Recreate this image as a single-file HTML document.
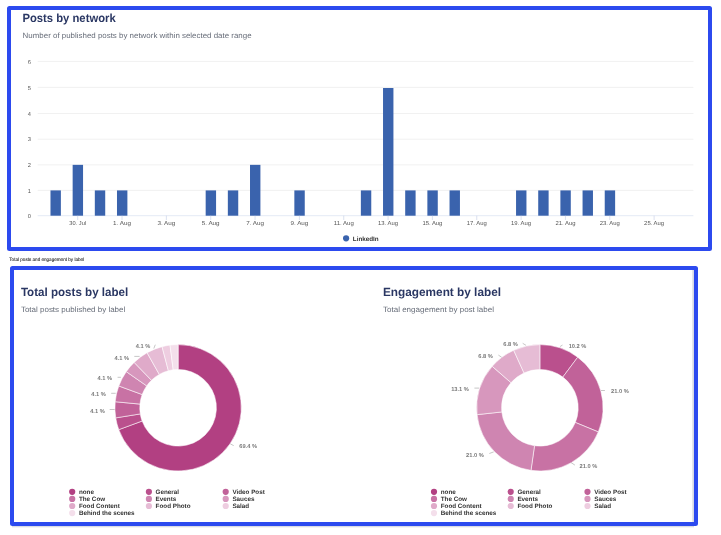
<!DOCTYPE html>
<html lang="en">
<head>
<meta charset="utf-8">
<title>Posts by network</title>
<style>
html,body{margin:0;padding:0;background:#fff;}
body{width:721px;height:535px;overflow:hidden;position:relative;font-family:"Liberation Sans", Arial, Helvetica, sans-serif;}
svg{position:absolute;left:0;top:0;display:block;}
text{font-family:"Liberation Sans", Arial, Helvetica, sans-serif;text-rendering:geometricPrecision;}
.frame{position:absolute;box-sizing:border-box;border:4px solid #2c4aef;border-radius:2.5px;background:#fff;}
.t{font-weight:700;fill:#2a3763;}
.s{fill:#666c78;}
.ax{fill:#555;font-size:5.7px;}
.dl{fill:#7b7b7b;font-size:5.7px;font-weight:700;}
.lg{fill:#333;font-size:6.3px;font-weight:700;}
</style>
</head>
<body>
<div class="frame" style="left:7px;top:6px;width:705px;height:245px;"></div>
<div class="frame" style="left:10px;top:266px;width:688px;height:260px;"></div>
<svg width="721" height="535" viewBox="0 0 721 535">
<g>
<text class="t" x="22.4" y="22" font-size="11.9" textLength="93.3" lengthAdjust="spacingAndGlyphs">Posts by network</text>
<text class="s" x="22.6" y="38" font-size="7.7" textLength="229" lengthAdjust="spacingAndGlyphs">Number of published posts by network within selected date range</text>
<line x1="37.7" x2="693.4" y1="215.70" y2="215.70" stroke="#ccd6eb" stroke-width="0.55"/>
<text class="ax" x="30.8" y="217.90" text-anchor="end">0</text>
<line x1="37.7" x2="693.4" y1="190.40" y2="190.40" stroke="#e6e6e6" stroke-width="0.55"/>
<text class="ax" x="30.8" y="192.60" text-anchor="end">1</text>
<line x1="37.7" x2="693.4" y1="164.85" y2="164.85" stroke="#e6e6e6" stroke-width="0.55"/>
<text class="ax" x="30.8" y="167.05" text-anchor="end">2</text>
<line x1="37.7" x2="693.4" y1="139.20" y2="139.20" stroke="#e6e6e6" stroke-width="0.55"/>
<text class="ax" x="30.8" y="141.40" text-anchor="end">3</text>
<line x1="37.7" x2="693.4" y1="113.50" y2="113.50" stroke="#e6e6e6" stroke-width="0.55"/>
<text class="ax" x="30.8" y="115.70" text-anchor="end">4</text>
<line x1="37.7" x2="693.4" y1="87.40" y2="87.40" stroke="#e6e6e6" stroke-width="0.55"/>
<text class="ax" x="30.8" y="89.60" text-anchor="end">5</text>
<line x1="37.7" x2="693.4" y1="61.45" y2="61.45" stroke="#e6e6e6" stroke-width="0.55"/>
<text class="ax" x="30.8" y="63.65" text-anchor="end">6</text>
<rect x="50.48" y="190.40" width="10.4" height="25.30" fill="#3a63ad"/>
<rect x="72.65" y="164.85" width="10.4" height="50.85" fill="#3a63ad"/>
<rect x="94.82" y="190.40" width="10.4" height="25.30" fill="#3a63ad"/>
<rect x="116.99" y="190.40" width="10.4" height="25.30" fill="#3a63ad"/>
<rect x="205.67" y="190.40" width="10.4" height="25.30" fill="#3a63ad"/>
<rect x="227.84" y="190.40" width="10.4" height="25.30" fill="#3a63ad"/>
<rect x="250.01" y="164.85" width="10.4" height="50.85" fill="#3a63ad"/>
<rect x="294.35" y="190.40" width="10.4" height="25.30" fill="#3a63ad"/>
<rect x="360.86" y="190.40" width="10.4" height="25.30" fill="#3a63ad"/>
<rect x="383.03" y="88.00" width="10.4" height="127.70" fill="#3a63ad"/>
<rect x="405.20" y="190.40" width="10.4" height="25.30" fill="#3a63ad"/>
<rect x="427.37" y="190.40" width="10.4" height="25.30" fill="#3a63ad"/>
<rect x="449.54" y="190.40" width="10.4" height="25.30" fill="#3a63ad"/>
<rect x="516.05" y="190.40" width="10.4" height="25.30" fill="#3a63ad"/>
<rect x="538.22" y="190.40" width="10.4" height="25.30" fill="#3a63ad"/>
<rect x="560.39" y="190.40" width="10.4" height="25.30" fill="#3a63ad"/>
<rect x="582.56" y="190.40" width="10.4" height="25.30" fill="#3a63ad"/>
<rect x="604.73" y="190.40" width="10.4" height="25.30" fill="#3a63ad"/>
<line x1="77.70" x2="77.70" y1="215.70" y2="220.00" stroke="#c3cde6" stroke-width="0.6"/>
<text class="ax" x="69.30" y="225" textLength="16.8" lengthAdjust="spacingAndGlyphs">30. Jul</text>
<line x1="122.04" x2="122.04" y1="215.70" y2="220.00" stroke="#c3cde6" stroke-width="0.6"/>
<text class="ax" x="113.14" y="225" textLength="17.8" lengthAdjust="spacingAndGlyphs">1. Aug</text>
<line x1="166.38" x2="166.38" y1="215.70" y2="220.00" stroke="#c3cde6" stroke-width="0.6"/>
<text class="ax" x="157.48" y="225" textLength="17.8" lengthAdjust="spacingAndGlyphs">3. Aug</text>
<line x1="210.72" x2="210.72" y1="215.70" y2="220.00" stroke="#c3cde6" stroke-width="0.6"/>
<text class="ax" x="201.82" y="225" textLength="17.8" lengthAdjust="spacingAndGlyphs">5. Aug</text>
<line x1="255.06" x2="255.06" y1="215.70" y2="220.00" stroke="#c3cde6" stroke-width="0.6"/>
<text class="ax" x="246.16" y="225" textLength="17.8" lengthAdjust="spacingAndGlyphs">7. Aug</text>
<line x1="299.40" x2="299.40" y1="215.70" y2="220.00" stroke="#c3cde6" stroke-width="0.6"/>
<text class="ax" x="290.50" y="225" textLength="17.8" lengthAdjust="spacingAndGlyphs">9. Aug</text>
<line x1="343.74" x2="343.74" y1="215.70" y2="220.00" stroke="#c3cde6" stroke-width="0.6"/>
<text class="ax" x="333.74" y="225" textLength="20.0" lengthAdjust="spacingAndGlyphs">11. Aug</text>
<line x1="388.08" x2="388.08" y1="215.70" y2="220.00" stroke="#c3cde6" stroke-width="0.6"/>
<text class="ax" x="378.08" y="225" textLength="20.0" lengthAdjust="spacingAndGlyphs">13. Aug</text>
<line x1="432.42" x2="432.42" y1="215.70" y2="220.00" stroke="#c3cde6" stroke-width="0.6"/>
<text class="ax" x="422.42" y="225" textLength="20.0" lengthAdjust="spacingAndGlyphs">15. Aug</text>
<line x1="476.76" x2="476.76" y1="215.70" y2="220.00" stroke="#c3cde6" stroke-width="0.6"/>
<text class="ax" x="466.76" y="225" textLength="20.0" lengthAdjust="spacingAndGlyphs">17. Aug</text>
<line x1="521.10" x2="521.10" y1="215.70" y2="220.00" stroke="#c3cde6" stroke-width="0.6"/>
<text class="ax" x="511.10" y="225" textLength="20.0" lengthAdjust="spacingAndGlyphs">19. Aug</text>
<line x1="565.44" x2="565.44" y1="215.70" y2="220.00" stroke="#c3cde6" stroke-width="0.6"/>
<text class="ax" x="555.44" y="225" textLength="20.0" lengthAdjust="spacingAndGlyphs">21. Aug</text>
<line x1="609.78" x2="609.78" y1="215.70" y2="220.00" stroke="#c3cde6" stroke-width="0.6"/>
<text class="ax" x="599.78" y="225" textLength="20.0" lengthAdjust="spacingAndGlyphs">23. Aug</text>
<line x1="654.12" x2="654.12" y1="215.70" y2="220.00" stroke="#c3cde6" stroke-width="0.6"/>
<text class="ax" x="644.12" y="225" textLength="20.0" lengthAdjust="spacingAndGlyphs">25. Aug</text>
<circle cx="346.1" cy="238.3" r="3.1" fill="#3a63ad"/>
<text class="lg" x="352.8" y="240.7">LinkedIn</text>
<text x="9.3" y="260.9" font-size="4.9" fill="#1a1a1a" stroke="#1a1a1a" stroke-width="0.08" textLength="74.8" lengthAdjust="spacingAndGlyphs">Total posts and engagement by label</text>
<rect x="692.4" y="270" width="1.5" height="252" fill="#d3d6e2"/>
<rect x="12" y="526" width="682" height="1.3" fill="#d9dbe4"/>
<text class="t" x="20.9" y="296" font-size="11.9" textLength="107.4" lengthAdjust="spacingAndGlyphs">Total posts by label</text>
<text class="s" x="20.9" y="312" font-size="7.7" textLength="104.4" lengthAdjust="spacingAndGlyphs">Total posts published by label</text>
<text class="t" x="383" y="296" font-size="11.9" textLength="118" lengthAdjust="spacingAndGlyphs">Engagement by label</text>
<text class="s" x="383" y="312" font-size="7.7" textLength="111" lengthAdjust="spacingAndGlyphs">Total engagement by post label</text>
<path d="M178.10 344.60A63.2 63.2 0 1 1 118.79 429.63L142.16 421.03A38.3 38.3 0 1 0 178.10 369.50Z" fill="#b24082" stroke="#fff" stroke-width="0.55" stroke-linejoin="round"/>
<path d="M118.79 429.63A63.2 63.2 0 0 1 115.71 417.89L140.29 413.91A38.3 38.3 0 0 0 142.16 421.03Z" fill="#ba508d" stroke="#fff" stroke-width="0.55" stroke-linejoin="round"/>
<path d="M115.71 417.89A63.2 63.2 0 0 1 115.19 401.73L139.98 404.12A38.3 38.3 0 0 0 140.29 413.91Z" fill="#c16299" stroke="#fff" stroke-width="0.55" stroke-linejoin="round"/>
<path d="M115.19 401.73A63.2 63.2 0 0 1 118.79 385.97L142.16 394.57A38.3 38.3 0 0 0 139.98 404.12Z" fill="#c872a4" stroke="#fff" stroke-width="0.55" stroke-linejoin="round"/>
<path d="M118.79 385.97A63.2 63.2 0 0 1 126.27 371.64L146.69 385.89A38.3 38.3 0 0 0 142.16 394.57Z" fill="#cf85b1" stroke="#fff" stroke-width="0.55" stroke-linejoin="round"/>
<path d="M126.27 371.64A63.2 63.2 0 0 1 134.13 362.40L151.46 380.29A38.3 38.3 0 0 0 146.69 385.89Z" fill="#d797bd" stroke="#fff" stroke-width="0.55" stroke-linejoin="round"/>
<path d="M134.13 362.40A63.2 63.2 0 0 1 147.09 352.73L159.31 374.43A38.3 38.3 0 0 0 151.46 380.29Z" fill="#dfaac9" stroke="#fff" stroke-width="0.55" stroke-linejoin="round"/>
<path d="M147.09 352.73A63.2 63.2 0 0 1 162.07 346.67L168.39 370.75A38.3 38.3 0 0 0 159.31 374.43Z" fill="#e6bcd5" stroke="#fff" stroke-width="0.55" stroke-linejoin="round"/>
<path d="M162.07 346.67A63.2 63.2 0 0 1 170.02 345.12L173.20 369.81A38.3 38.3 0 0 0 168.39 370.75Z" fill="#eecde0" stroke="#fff" stroke-width="0.55" stroke-linejoin="round"/>
<path d="M170.02 345.12A63.2 63.2 0 0 1 178.10 344.60L178.10 369.50A38.3 38.3 0 0 0 173.20 369.81Z" fill="#f4dfeb" stroke="#fff" stroke-width="0.55" stroke-linejoin="round"/>
<path d="M539.90 344.60A63.2 63.2 0 0 1 577.72 357.17L562.82 377.11A38.3 38.3 0 0 0 539.90 369.50Z" fill="#ba508d" stroke="#fff" stroke-width="0.55" stroke-linejoin="round"/>
<path d="M577.72 357.17A63.2 63.2 0 0 1 598.32 431.92L575.30 422.42A38.3 38.3 0 0 0 562.82 377.11Z" fill="#c16299" stroke="#fff" stroke-width="0.55" stroke-linejoin="round"/>
<path d="M598.32 431.92A63.2 63.2 0 0 1 530.99 470.37L534.50 445.72A38.3 38.3 0 0 0 575.30 422.42Z" fill="#c872a4" stroke="#fff" stroke-width="0.55" stroke-linejoin="round"/>
<path d="M530.99 470.37A63.2 63.2 0 0 1 477.07 414.64L501.83 411.95A38.3 38.3 0 0 0 534.50 445.72Z" fill="#cf85b1" stroke="#fff" stroke-width="0.55" stroke-linejoin="round"/>
<path d="M477.07 414.64A63.2 63.2 0 0 1 492.20 366.34L510.99 382.68A38.3 38.3 0 0 0 501.83 411.95Z" fill="#d797bd" stroke="#fff" stroke-width="0.55" stroke-linejoin="round"/>
<path d="M492.20 366.34A63.2 63.2 0 0 1 513.69 350.29L524.01 372.95A38.3 38.3 0 0 0 510.99 382.68Z" fill="#dfaac9" stroke="#fff" stroke-width="0.55" stroke-linejoin="round"/>
<path d="M513.69 350.29A63.2 63.2 0 0 1 539.90 344.60L539.90 369.50A38.3 38.3 0 0 0 524.01 372.95Z" fill="#e6bcd5" stroke="#fff" stroke-width="0.55" stroke-linejoin="round"/>
<path d="M230.3 443.9L233.7 445.6" stroke="#999" stroke-width="0.55" fill="none"/>
<text class="dl" x="239.3" y="448.05">69.4 %</text>
<path d="M153.8 348.5L155.3 344.7" stroke="#999" stroke-width="0.55" fill="none"/>
<text class="dl" x="135.8" y="348.25">4.1 %</text>
<path d="M134.3 356.4L139.6 356.4" stroke="#999" stroke-width="0.55" fill="none"/>
<text class="dl" x="114.5" y="359.75">4.1 %</text>
<path d="M117.6 377.3L120.9 377.3" stroke="#999" stroke-width="0.55" fill="none"/>
<text class="dl" x="97.4" y="380.15">4.1 %</text>
<path d="M111.2 393.3L115.7 393.3" stroke="#999" stroke-width="0.55" fill="none"/>
<text class="dl" x="91.3" y="396.25">4.1 %</text>
<path d="M109.7 409.5L114.6 409.5" stroke="#999" stroke-width="0.55" fill="none"/>
<text class="dl" x="90.2" y="413.05">4.1 %</text>
<path d="M560.1 346.5L562.5 345.1" stroke="#999" stroke-width="0.55" fill="none"/>
<text class="dl" x="568.7" y="348.15">10.2 %</text>
<path d="M601.0 390.5L604.9 390.5" stroke="#999" stroke-width="0.55" fill="none"/>
<text class="dl" x="611.0" y="393.25">21.0 %</text>
<path d="M570.9 462.5L574.9 465.1" stroke="#999" stroke-width="0.55" fill="none"/>
<text class="dl" x="579.6" y="467.95">21.0 %</text>
<path d="M489.3 453.5L493.7 451.9" stroke="#999" stroke-width="0.55" fill="none"/>
<text class="dl" x="466.1" y="456.85">21.0 %</text>
<path d="M474.4 388.1L479.0 388.1" stroke="#999" stroke-width="0.55" fill="none"/>
<text class="dl" x="451.2" y="391.15">13.1 %</text>
<path d="M498.4 355.1L501.6 357.2" stroke="#999" stroke-width="0.55" fill="none"/>
<text class="dl" x="478.3" y="357.85">6.8 %</text>
<path d="M522.7 343.3L526.1 345.4" stroke="#999" stroke-width="0.55" fill="none"/>
<text class="dl" x="503.3" y="346.35">6.8 %</text>
<circle cx="72.2" cy="491.8" r="3.1" fill="#b24082"/>
<text class="lg" x="78.9" y="494">none</text>
<circle cx="148.9" cy="491.8" r="3.1" fill="#ba508d"/>
<text class="lg" x="155.6" y="494">General</text>
<circle cx="225.7" cy="491.8" r="3.1" fill="#c16299"/>
<text class="lg" x="232.4" y="494">Video Post</text>
<circle cx="72.2" cy="498.9" r="3.1" fill="#c872a4"/>
<text class="lg" x="78.9" y="501">The Cow</text>
<circle cx="148.9" cy="498.9" r="3.1" fill="#cf85b1"/>
<text class="lg" x="155.6" y="501">Events</text>
<circle cx="225.7" cy="498.9" r="3.1" fill="#d797bd"/>
<text class="lg" x="232.4" y="501">Sauces</text>
<circle cx="72.2" cy="506.0" r="3.1" fill="#dfaac9"/>
<text class="lg" x="78.9" y="508">Food Content</text>
<circle cx="148.9" cy="506.0" r="3.1" fill="#e6bcd5"/>
<text class="lg" x="155.6" y="508">Food Photo</text>
<circle cx="225.7" cy="506.0" r="3.1" fill="#eecde0"/>
<text class="lg" x="232.4" y="508">Salad</text>
<circle cx="72.2" cy="513.1" r="3.1" fill="#f4dfeb"/>
<text class="lg" x="78.9" y="515">Behind the scenes</text>
<circle cx="434.0" cy="491.8" r="3.1" fill="#b24082"/>
<text class="lg" x="440.7" y="494">none</text>
<circle cx="510.7" cy="491.8" r="3.1" fill="#ba508d"/>
<text class="lg" x="517.4" y="494">General</text>
<circle cx="587.5" cy="491.8" r="3.1" fill="#c16299"/>
<text class="lg" x="594.2" y="494">Video Post</text>
<circle cx="434.0" cy="498.9" r="3.1" fill="#c872a4"/>
<text class="lg" x="440.7" y="501">The Cow</text>
<circle cx="510.7" cy="498.9" r="3.1" fill="#cf85b1"/>
<text class="lg" x="517.4" y="501">Events</text>
<circle cx="587.5" cy="498.9" r="3.1" fill="#d797bd"/>
<text class="lg" x="594.2" y="501">Sauces</text>
<circle cx="434.0" cy="506.0" r="3.1" fill="#dfaac9"/>
<text class="lg" x="440.7" y="508">Food Content</text>
<circle cx="510.7" cy="506.0" r="3.1" fill="#e6bcd5"/>
<text class="lg" x="517.4" y="508">Food Photo</text>
<circle cx="587.5" cy="506.0" r="3.1" fill="#eecde0"/>
<text class="lg" x="594.2" y="508">Salad</text>
<circle cx="434.0" cy="513.1" r="3.1" fill="#f4dfeb"/>
<text class="lg" x="440.7" y="515">Behind the scenes</text>
</g>
</svg>
</body>
</html>
